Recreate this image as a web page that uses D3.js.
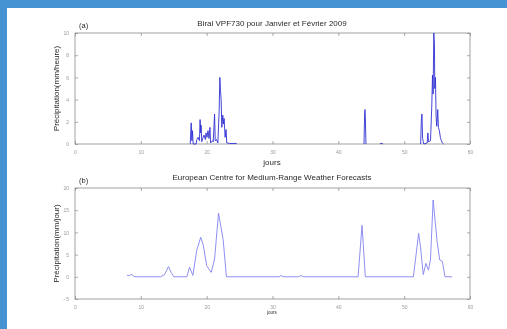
<!DOCTYPE html>
<html>
<head>
<meta charset="utf-8">
<script src="https://cdn.jsdelivr.net/npm/d3@7"></script>
<style>
  body { margin: 0; background: #4593d2; }
  svg { display: block; filter: blur(0.45px); }
</style>
</head>
<body>
<div id="chart"></div>
<script>
// (a) radar hourly rain, days / mm per hour (null = no data, line breaks)
const radarDays = [17.5, 17.65, 17.75, 17.85, 17.95, 18.4, 18.5, 18.7, 18.9, 19.0, 19.1, 19.15, 19.25, 19.4, 19.6, 19.8, 19.9, 20.05, 20.2, 20.35, 20.5, 20.6, 20.9, 21.0, 21.2, 21.3, 21.5, 21.7, 21.9, 22.0, 22.1, 22.2, 22.3, 22.45, 22.55, 22.65, 22.8, 22.95, 23.05, 23.5, 24.5, 24.6, 30, 43.9, 44.0, 44.05, 44.1, 44.2, 45, 46.3, 46.4, 46.7, 46.8, 50, 52.5, 52.6, 52.7, 52.8, 52.9, 53.0, 53.5, 53.6, 53.7, 54.0, 54.2, 54.3, 54.4, 54.5, 54.6, 54.65, 54.75, 54.85, 54.95, 55.1, 55.2, 55.35, 55.5, 55.65, 55.8, 56.0]
const radarValues = [0, 1.9, 0.3, 1.2, 0, 0, 0.4, 0.6, 0.3, 2.2, 1.0, 1.7, 0.2, 0.5, 0.8, 0.4, 1.0, 0.6, 1.2, 0.5, 1.5, 0.1, 0.3, 0.2, 2.7, 0.3, 0.4, 0.1, 3.0, 6.0, 4.8, 4.0, 1.5, 2.6, 1.8, 2.3, 0.6, 1.3, 0.1, 0.05, 0.05, 0, null, 0, 2.8, 3.1, 2.5, 0, null, 0, 0.06, 0.04, 0, null, 0, 2.0, 2.7, 0.5, 0.2, 0, 0.1, 1.0, 0.2, 0.3, 3.5, 6.2, 4.5, 10, 9.0, 5.0, 6.0, 2.5, 1.6, 3.1, 1.5, 1.2, 0.6, 0.3, 0.1, 0]

// (b) ECMWF, days / mm per day
const ecmwfDays = [7.9, 8.3, 8.6, 8.9, 9.3, 13.0, 13.6, 14.2, 14.6, 15.0, 17.0, 17.4, 17.9, 18.5, 19.1, 19.5, 20.0, 20.7, 21.2, 21.8, 22.5, 23.0, 31.0, 31.3, 31.6, 34.0, 34.3, 34.7, 43.0, 43.6, 44.1, 51.4, 52.2, 52.5, 52.9, 53.3, 53.7, 54.0, 54.4, 55.0, 55.4, 55.8, 56.2, 57.3]
const ecmwfValues = [0.3, 0.3, 0.6, 0.1, 0, 0, 0.5, 2.3, 1.0, 0, 0, 2.2, 0.3, 6.0, 8.9, 7.0, 2.5, 1.0, 4.0, 14.3, 8.4, 0, 0, 0.3, 0, 0, 0.3, 0, 0, 11.6, 0, 0, 9.8, 6.5, 0.5, 3.0, 1.5, 4.0, 17.3, 8.0, 3.8, 3.5, 0, 0]

const xTicks = [0, 10, 20, 30, 40, 50, 60]
const yTicksA = [0, 2, 4, 6, 8, 10]
const yTicksB = [-5, 0, 5, 10, 15, 20]

const width = 507
const height = 329

const svg = d3.select('#chart')
  .append('svg')
  .attr('width', width)
  .attr('height', height)

// white slide panel
svg.append('rect')
  .attr('x', 7).attr('y', 8)
  .attr('width', width - 7).attr('height', height - 8)
  .attr('fill', '#ffffff')

const font = 'Liberation Sans, Arial, sans-serif'

function panel (opts) {
  const x = d3.scaleLinear().domain([0, 60]).range([75, 470])
  const y = d3.scaleLinear().domain(opts.yDomain).range([opts.bottom, opts.top])

  const g = svg.append('g')

  g.append('rect')
    .attr('x', 75).attr('y', opts.top)
    .attr('width', 395).attr('height', opts.bottom - opts.top)
    .attr('fill', 'none')
    .attr('stroke', '#8a8a8a')
    .attr('stroke-width', 0.8)

  // ticks inside, on all four sides
  const axes = [
    [d3.axisBottom(x).tickValues(xTicks), opts.bottom, 0, true],
    [d3.axisTop(x).tickValues(xTicks).tickFormat(''), opts.top, 0, false],
    [d3.axisLeft(y).tickValues(opts.yTicks), 0, 75, true],
    [d3.axisRight(y).tickValues(opts.yTicks).tickFormat(''), 0, 470, false]
  ]
  axes.forEach(([ax, ty, tx, labels]) => {
    const a = g.append('g')
      .attr('transform', 'translate(' + tx + ',' + ty + ')')
      .call(ax.tickSizeInner(-3).tickSizeOuter(0).tickPadding(labels ? 6 : 0))
    a.select('.domain').remove()
    a.selectAll('line').attr('stroke', '#8a8a8a').attr('stroke-width', 0.7)
    a.selectAll('text')
      .attr('fill', '#9a9a9a')
      .style('font-family', font)
      .style('font-size', '5px')
  })

  const line = d3.line()
    .defined(d => d[1] != null)
    .x(d => x(d[0]))
    .y(d => y(d[1]))

  g.append('path')
    .datum(opts.days.map((d, i) => [d, opts.values[i]]))
    .attr('fill', 'none')
    .attr('stroke', opts.color)
    .attr('stroke-width', opts.lineWidth)
    .attr('stroke-linejoin', 'round')
    .attr('d', line)

  g.append('text')
    .attr('x', 272).attr('y', opts.top - opts.titleGap)
    .attr('text-anchor', 'middle')
    .attr('fill', '#2a2a2a')
    .style('font-family', font)
    .style('font-size', '8px')
    .text(opts.title)

  g.append('text')
    .attr('x', 79).attr('y', opts.top - 5)
    .attr('fill', '#2a2a2a')
    .style('font-family', font)
    .style('font-size', '7.5px')
    .text(opts.letter)

  g.append('text')
    .attr('transform', 'translate(59,' + (opts.top + opts.bottom) / 2 + ') rotate(-90)')
    .attr('text-anchor', 'middle')
    .attr('fill', '#2a2a2a')
    .style('font-family', font)
    .style('font-size', '8px')
    .text(opts.yLabel)

  g.append('text')
    .attr('x', 272).attr('y', opts.bottom + opts.xLabelGap)
    .attr('text-anchor', 'middle')
    .attr('fill', '#2a2a2a')
    .style('font-family', font)
    .style('font-size', opts.xLabelSize)
    .text('jours')
}

panel({
  top: 33, bottom: 144,
  yDomain: [0, 10], yTicks: yTicksA,
  days: radarDays, values: radarValues,
  color: '#3030d4', lineWidth: 0.9,
  title: 'Biral VPF730 pour Janvier et Février 2009',
  titleGap: 7,
  letter: '(a)',
  yLabel: 'Précipitation(mm/heure)',
  xLabelGap: 21, xLabelSize: '8px'
})

panel({
  top: 188, bottom: 299,
  yDomain: [-5, 20], yTicks: yTicksB,
  days: ecmwfDays, values: ecmwfValues,
  color: '#8282f2', lineWidth: 0.9,
  title: 'European Centre for Medium-Range Weather Forecasts',
  titleGap: 8,
  letter: '(b)',
  yLabel: 'Précipitation(mm/jour)',
  xLabelGap: 15, xLabelSize: '4.5px'
})
</script>
</body>
</html>
